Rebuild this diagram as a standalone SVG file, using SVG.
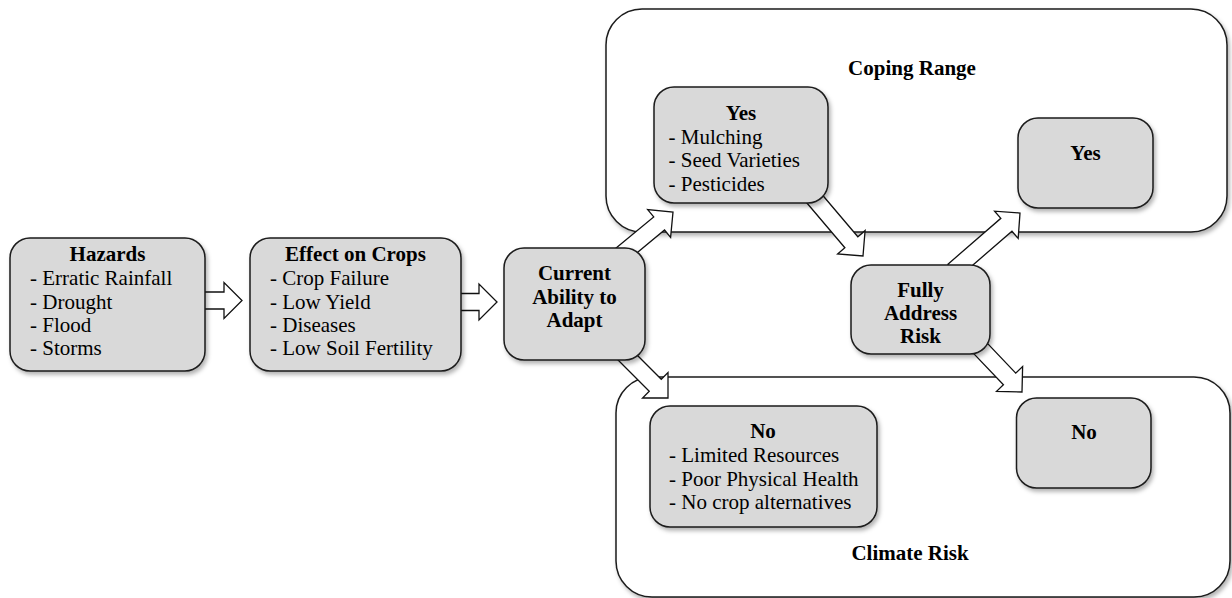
<svg xmlns="http://www.w3.org/2000/svg" width="1232" height="598" viewBox="0 0 1232 598">
<defs>
<filter id="sh" x="-10%" y="-10%" width="130%" height="130%">
<feDropShadow dx="2" dy="3" stdDeviation="2" flood-color="#000" flood-opacity="0.3"/>
</filter>
<style>
.node{fill:#d9d9d9;stroke:#1a1a1a;stroke-width:1.5}
.cont{fill:#fff;stroke:#1a1a1a;stroke-width:1.5}
.arr{fill:#fff;stroke:#111;stroke-width:1.3;stroke-linejoin:miter}
text{font-family:"Liberation Serif","Times New Roman",serif;font-size:21px;fill:#000}
.b{font-weight:bold;text-anchor:middle}
</style>
</defs>
<rect width="1232" height="598" fill="#fff"/>
<g id="coping-range">
<rect class="cont" x="606" y="9" width="621" height="223" rx="36" filter="url(#sh)"/>
<text class="b" x="912" y="75">Coping Range</text>
</g>
<g id="climate-risk">
<rect class="cont" x="616" y="377" width="614" height="220" rx="36" filter="url(#sh)"/>
<text class="b" x="910" y="560">Climate Risk</text>
</g>
<g id="connectors">
<polygon class="arr" transform="translate(242,300.5)" points="-42,-8.5 -18,-8.5 -18,-18 0,0 -18,18 -18,8.5 -42,8.5"/>
<polygon class="arr" transform="translate(497,302)" points="-42,-8.5 -18,-8.5 -18,-18 0,0 -18,18 -18,8.5 -42,8.5"/>
<polygon class="arr" transform="translate(673,212) rotate(-39.6)" points="-68,-8.5 -18,-8.5 -18,-18 0,0 -18,18 -18,8.5 -68,8.5"/>
<polygon class="arr" transform="translate(863,256) rotate(49.7)" points="-78,-8.5 -18,-8.5 -18,-18 0,0 -18,18 -18,8.5 -78,8.5"/>
<polygon class="arr" transform="translate(1020,213) rotate(-40.9)" points="-88,-8.5 -18,-8.5 -18,-18 0,0 -18,18 -18,8.5 -88,8.5"/>
<polygon class="arr" transform="translate(1022,392) rotate(46.4)" points="-68,-8.5 -18,-8.5 -18,-18 0,0 -18,18 -18,8.5 -68,8.5"/>
<polygon class="arr" transform="translate(668,398) rotate(45)" points="-65,-8.5 -18,-8.5 -18,-18 0,0 -18,18 -18,8.5 -65,8.5"/>
</g>
<g id="hazards">
<rect class="node" x="10" y="238" width="195" height="133" rx="20" filter="url(#sh)"/>
<text class="b" x="107.5" y="261">Hazards</text>
<text x="30" y="285">- Erratic Rainfall</text>
<text x="30" y="308.5">- Drought</text>
<text x="30" y="332">- Flood</text>
<text x="30" y="355">- Storms</text>
</g>
<g id="effect-on-crops">
<rect class="node" x="250" y="238" width="211" height="133" rx="20" filter="url(#sh)"/>
<text class="b" x="355.5" y="261">Effect on Crops</text>
<text x="270" y="285">- Crop Failure</text>
<text x="270" y="308.5">- Low Yield</text>
<text x="270" y="332">- Diseases</text>
<text x="270" y="355">- Low Soil Fertility</text>
</g>
<g id="current-ability">
<rect class="node" x="504" y="248" width="141" height="112" rx="20" filter="url(#sh)"/>
<text class="b" x="574.5" y="280">Current</text>
<text class="b" x="574.5" y="303.5">Ability to</text>
<text class="b" x="574.5" y="327">Adapt</text>
</g>
<g id="yes-strategies">
<rect class="node" x="654" y="87" width="174" height="116" rx="20" filter="url(#sh)"/>
<text class="b" x="741" y="120">Yes</text>
<text x="668.5" y="143.5">- Mulching</text>
<text x="668.5" y="167">- Seed Varieties</text>
<text x="668.5" y="190.5">- Pesticides</text>
</g>
<g id="fully-address-risk">
<rect class="node" x="851" y="265" width="139" height="89" rx="20" filter="url(#sh)"/>
<text class="b" x="920.5" y="297">Fully</text>
<text class="b" x="920.5" y="320">Address</text>
<text class="b" x="920.5" y="343">Risk</text>
</g>
<g id="yes-outcome">
<rect class="node" x="1018" y="118" width="135" height="90" rx="20" filter="url(#sh)"/>
<text class="b" x="1085.5" y="160">Yes</text>
</g>
<g id="no-barriers">
<rect class="node" x="650" y="406" width="227" height="121" rx="20" filter="url(#sh)"/>
<text class="b" x="763" y="438">No</text>
<text x="669" y="462">- Limited Resources</text>
<text x="669" y="485.5">- Poor Physical Health</text>
<text x="669" y="509">- No crop alternatives</text>
</g>
<g id="no-outcome">
<rect class="node" x="1016.5" y="398" width="134.5" height="90" rx="20" filter="url(#sh)"/>
<text class="b" x="1084" y="439">No</text>
</g>
</svg>
